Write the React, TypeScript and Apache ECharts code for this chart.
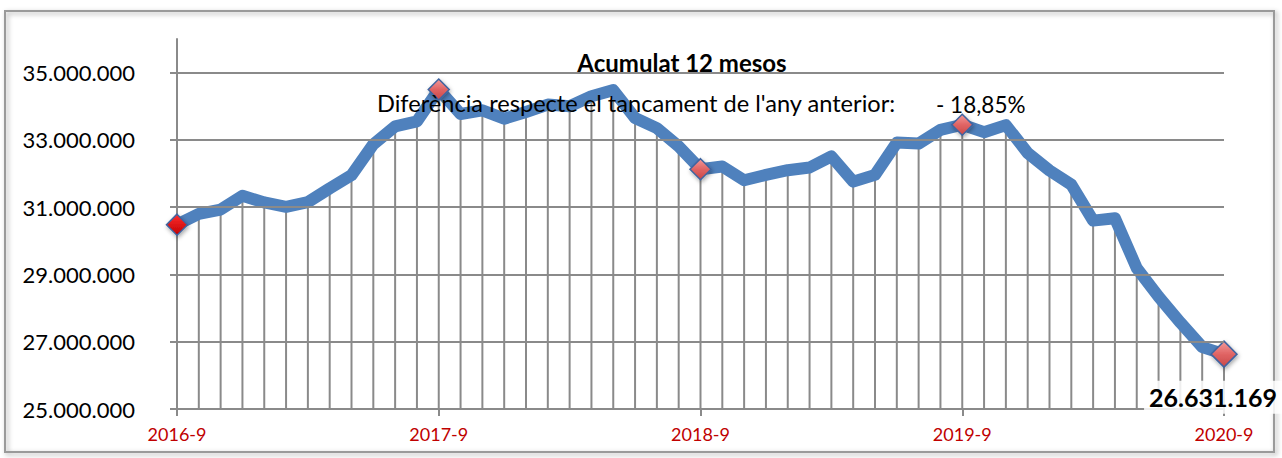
import React, { useEffect, useRef } from "react";
import * as echarts from "echarts";

const months: string[] = [
  "2016-9", "2016-10", "2016-11", "2016-12", "2017-1", "2017-2", "2017-3", "2017-4", "2017-5", "2017-6", "2017-7", "2017-8",
  "2017-9", "2017-10", "2017-11", "2017-12", "2018-1", "2018-2", "2018-3", "2018-4", "2018-5", "2018-6", "2018-7", "2018-8",
  "2018-9", "2018-10", "2018-11", "2018-12", "2019-1", "2019-2", "2019-3", "2019-4", "2019-5", "2019-6", "2019-7", "2019-8",
  "2019-9", "2019-10", "2019-11", "2019-12", "2020-1", "2020-2", "2020-3", "2020-4", "2020-5", "2020-6", "2020-7", "2020-8",
  "2020-9",
];

const acumulat12: number[] = [
  30480000, 30800000, 30930000, 31340000, 31140000, 31010000, 31150000, 31560000, 31950000, 32870000, 33400000, 33550000,
  34500000, 33770000, 33880000, 33630000, 33830000, 34050000, 34000000, 34300000, 34480000, 33650000, 33350000, 32810000,
  32130000, 32210000, 31800000, 31960000, 32100000, 32180000, 32510000, 31760000, 31960000, 32920000, 32890000, 33300000,
  33450000, 33230000, 33440000, 32610000, 32090000, 31670000, 30600000, 30670000, 29190000, 28340000, 27570000, 26840000,
  26631169,
];

const markerIndices: number[] = [0, 12, 24, 36, 48];
const yTicks: number[] = [25000000, 27000000, 29000000, 31000000, 33000000, 35000000];
const yMin = 25000000;
const yMax = 36000000;

const titleText = "Acumulat 12 mesos";
const subtitleText = "Diferència respecte el tancament de l'any anterior:";
const diffText = "- 18,85%";

const FONT = "Lato, 'Open Sans', sans-serif";
const fmt = (v: number) => String(Math.round(v)).replace(/\B(?=(\d{3})+(?!\d))/g, ".");

export default function App() {
  const ref = useRef<HTMLDivElement>(null);
  useEffect(() => {
    if (!ref.current) return;
    const chart = echarts.init(ref.current, undefined, { renderer: "svg" });
    const markerFill = (first: boolean) =>
      first
        ? new echarts.graphic.LinearGradient(0, 0, 0, 1, [
            { offset: 0, color: "#ff3030" },
            { offset: 1, color: "#c00000" },
          ])
        : new echarts.graphic.LinearGradient(0, 0, 0, 1, [
            { offset: 0, color: "#f39a9a" },
            { offset: 0.5, color: "#e06464" },
            { offset: 1, color: "#c84848" },
          ]);
    const lineData = acumulat12.map((v, i) => {
      if (markerIndices.includes(i)) {
        const last = i === acumulat12.length - 1;
        return {
          value: v,
          symbol: "diamond",
          symbolSize: last ? 26 : 21,
          itemStyle: {
            color: markerFill(i === 0),
            borderColor: "#3f64a0",
            borderWidth: 1.5,
            shadowBlur: 4,
            shadowColor: "rgba(0,0,0,0.35)",
            shadowOffsetX: 1,
            shadowOffsetY: 2,
          },
          label: last
            ? {
                show: true,
                position: "inside",
                offset: [-11, 43],
                formatter: (p: any) => fmt(p.value),
                color: "#000",
                fontFamily: FONT,
                fontWeight: "bold",
                fontSize: 25,
                backgroundColor: "rgba(255,255,255,0.85)",
                padding: [4, 5, 4, 5],
              }
            : { show: false },
        };
      }
      return { value: v, symbol: "none" };
    });

    chart.setOption({
      animation: false,
      backgroundColor: "#ffffff",
      textStyle: { fontFamily: FONT },
      title: [
        {
          text: titleText,
          left: 677,
          top: 45,
          textAlign: "center",
          textStyle: { fontFamily: FONT, fontWeight: "bold", fontSize: 24, color: "#000" },
        },
        {
          text: subtitleText,
          left: 372,
          top: 86,
          textStyle: { fontFamily: FONT, fontWeight: "normal", fontSize: 23.6, color: "#000" },
        },
        {
          text: diffText,
          left: 931,
          top: 88,
          textStyle: { fontFamily: FONT, fontWeight: "normal", fontSize: 22.5, color: "#000" },
        },
      ],
      graphic: [
        {
          type: "rect",
          shape: { x: 5, y: 11, width: 1269, height: 441 },
          style: {
            fill: "none",
            stroke: "#9a9a9a",
            lineWidth: 2,
            shadowBlur: 5,
            shadowColor: "rgba(0,0,0,0.35)",
            shadowOffsetX: 2,
            shadowOffsetY: 2,
          },
          silent: true,
          z: -1,
        },
      ],
      grid: { left: 177, right: 58, top: 39, bottom: 49, containLabel: false },
      xAxis: {
        type: "category",
        data: months,
        boundaryGap: false,
        axisLine: { show: true, lineStyle: { color: "#8a8a8a", width: 2 } },
        axisTick: { show: true, interval: 11, length: 7, lineStyle: { color: "#8a8a8a", width: 2 } },
        axisLabel: {
          interval: 11,
          color: "#c00000",
          fontFamily: FONT,
          fontSize: 18,
          margin: 16,
        },
        splitLine: { show: false },
      },
      yAxis: {
        type: "value",
        min: yMin,
        max: yMax,
        interval: 2000000,
        axisLine: { show: true, lineStyle: { color: "#8a8a8a", width: 2 } },
        axisTick: { show: true, length: 7, customValues: yTicks, lineStyle: { color: "#8a8a8a", width: 2 } },
        axisLabel: {
          customValues: yTicks,
          formatter: (v: number) => (yTicks.includes(v) ? fmt(v) : ""),
          color: "#000",
          fontFamily: FONT,
          fontSize: 22,
          margin: 42,
        },
        splitLine: { show: false },
      },
      series: [
        {
          type: "bar",
          data: acumulat12,
          barWidth: 2,
          clip: true,
          silent: true,
          itemStyle: { color: "#8a8a8a" },
          z: 1,
          markLine: {
            silent: true,
            symbol: "none",
            label: { show: false },
            lineStyle: { color: "#8a8a8a", width: 2, type: "solid" },
            data: yTicks.slice(1).map((t) => ({ yAxis: t })),
          },
        },
        {
          type: "line",
          data: lineData,
          symbol: "none",
          lineStyle: { color: "#4f81bd", width: 12, join: "round" },
          itemStyle: { color: "#4f81bd" },
          z: 3,
        },
      ],
    });
    return () => chart.dispose();
  }, []);
  return (
    <div
      ref={ref}
      style={{ position: "absolute", left: 0, top: 0, width: 1282, height: 458 }}
    />
  );
}
